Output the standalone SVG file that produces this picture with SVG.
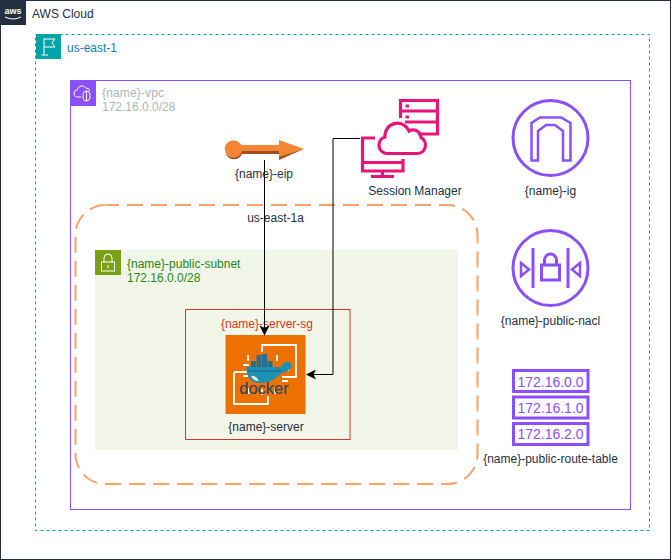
<svg xmlns="http://www.w3.org/2000/svg" width="671" height="560" viewBox="0 0 671 560">
<style>
text{font-family:"Liberation Sans",Arial,sans-serif;font-size:12px;fill:#232F3E}
.m{text-anchor:middle}
.pl{fill:none;stroke:#8C4FFF;stroke-width:3}
.ws{fill:none;stroke:#fff;stroke-width:1}
.pk{fill:none;stroke:#E7157B;stroke-width:3.2}
.conn{fill:none;stroke:#000;stroke-width:1}
.box{fill:#2A6F8E}
.rt{font-size:14px;fill:#8C4FFF}
</style>
<defs>
<marker id="ah" viewBox="0 0 10 10" refX="9" refY="5" markerWidth="10" markerHeight="10" orient="auto" markerUnits="userSpaceOnUse"><path d="M0 0L10 5L0 10L2.5 5Z" fill="#000"/></marker>
</defs>
<rect width="671" height="560" fill="#fff"/>
<g id="aws-cloud">
<rect x="0.5" y="0.5" width="670" height="559" fill="none" stroke="#232F3E"/>
<rect x="0" y="0" width="26" height="25" fill="#232F3E"/>
<text x="13" y="14" class="m" style="font-size:9px;font-weight:bold;fill:#fff">aws</text>
<path d="M5 17Q13 21 21 17" fill="none" stroke="#fff" stroke-width="1"/>
<text x="32" y="18">AWS Cloud</text>
</g>
<g id="region">
<rect x="35.5" y="34.5" width="614" height="496" fill="none" stroke="#00A4A6" stroke-dasharray="3 3"/>
<rect x="36" y="34" width="25" height="25" fill="#00A4A6"/>
<path d="M44 55V38.500M44 39H55L52 43L55 47H44M41.500 55H48" fill="none" stroke="#fff"/>
<text x="67" y="52" style="fill:#147EBA">us-east-1</text>
</g>
<g id="vpc">
<rect x="70.5" y="80.5" width="560" height="429" fill="none" stroke="#8C4FFF"/>
<rect x="71" y="81" width="25" height="25" fill="#8C4FFF"/>
<path d="M81 97H78a3.500 3.500 0 0 1-1-7a5 5 0 0 1 9-2a4 4 0 0 1 4 3" class="ws"/>
<rect x="83" y="91" width="7" height="10" rx="3.500" class="ws"/>
<path d="M86.500 91V101" class="ws"/>
<text x="102" y="97" style="fill:#AAB7B8" textLength="62">{name}-vpc</text>
<text x="102" y="111" style="fill:#AAB7B8">172.16.0.0/28</text>
</g>
<g id="az">
<rect x="75.5" y="205" width="402" height="279" rx="30" fill="none" stroke="#F8A36A" stroke-width="2" stroke-dasharray="16 8" stroke-dashoffset="2.500"/>
<text x="275.500" y="222" class="m">us-east-1a</text>
</g>
<g id="subnet">
<rect x="95" y="250" width="363" height="200" fill="#F2F6E8"/>
<rect x="95" y="250" width="26" height="25" fill="#7AA116"/>
<rect x="101.500" y="262" width="13" height="9" fill="none" stroke="#fff"/>
<path d="M104 262V258a4 4 0 0 1 8 0v4" fill="none" stroke="#fff"/>
<path d="M108 265v3" stroke="#fff"/>
<text x="127" y="268" style="fill:#248814">{name}-public-subnet</text>
<text x="127" y="282" style="fill:#248814">172.16.0.0/28</text>
</g>
<g id="server-sg">
<path d="M350 309.500H185.500V439.500H350" fill="none" stroke="#D2382A"/>
<path d="M350 309V440" fill="none" stroke="#DD3522"/>
<text x="267" y="328" class="m" style="fill:#DD3522">{name}-server-sg</text>
</g>
<g id="server">
<rect x="225.500" y="335" width="80" height="79" fill="#ED7100"/>
<path d="M262 352V345H296V377H282M234 372H247M234 372V404H268V396" fill="none" stroke="#fff" stroke-width="1.800"/>
<path d="M248 355v6M258 355v4M277 355v6M243 365h6M243 376h5M283 370h6M282 381h6M249 388v6M262 389v6M275 388v6" stroke="#fff" stroke-width="1.800" fill="none"/>
<path d="M246 367H281Q284 361 288 362Q291 363 292 366Q289 372 281 373Q274 383 258 383Q247 382 246 367Z" fill="#1D91B4"/>
<path d="M248 371H281" stroke="#17617F" stroke-width="1"/>
<path d="M251 376Q256 375 259 381Q253 381 251 376Z" fill="#E6F2F6"/>
<rect x="251" y="361" width="5" height="6" class="box"/><rect x="256.500" y="361" width="5" height="6" class="box"/><rect x="262" y="361" width="5" height="6" class="box"/><rect x="267.500" y="361" width="5" height="6" class="box"/>
<rect x="256.500" y="355" width="5" height="6" class="box"/><rect x="262" y="355" width="5" height="6" class="box"/><rect x="262" y="354" width="5" height="3" class="box"/>
<text x="264" y="394" class="m" style="font-size:16.500px;fill:#33475A;stroke:#33475A;stroke-width:.2">docker</text>
<text x="266" y="431" class="m">{name}-server</text>
</g>
<g id="connectors">
<path d="M264.500 160V334.500" class="conn" marker-end="url(#ah)"/>
<path d="M360 138.500H333V374.500H307" class="conn" marker-end="url(#ah)"/>
</g>
<g id="eip">
<path d="M226 154A8.700 8.700 0 0 0 242 154H279V160L304 149L279 156V151H241Z" fill="#9D5025"/>
<circle cx="233.500" cy="149" r="8.700" fill="#F58534"/>
<path d="M240 145H279V140L304 149L279 157V151H240Z" fill="#F58534"/>
<text x="264" y="178" class="m">{name}-eip</text>
</g>
<g id="session-manager">
<path d="M375 138H362.500V171H403V159M362.500 162.500H403M371 176.500H394M382.500 171V176" class="pk"/>
<path d="M400.500 118V100.500H437.500V134H418" class="pk"/>
<path d="M400.500 111H437.500M405 122H437.500" class="pk"/>
<path d="M405.500 106h3.500M405.500 117h3.500" class="pk"/>
<path d="M386 153.500H417A8.500 8.500 0 0 0 421 137.500A8 8 0 0 0 409 131A12.500 12.500 0 0 0 385 137A8.500 8.500 0 0 0 386 153.500Z" fill="none" stroke="#E7157B" stroke-width="3.200"/>
<text x="415" y="195" class="m">Session Manager</text>
</g>
<g id="ig">
<circle cx="550.500" cy="138" r="37.500" class="pl"/>
<path d="M531.500 160.500V123L540 117.500H561L570.500 123V160.500H563V131L555 125H546L538 131V160.500Z" fill="none" stroke="#8C4FFF" stroke-width="2.500"/>
<text x="550.500" y="195" class="m">{name}-ig</text>
</g>
<g id="nacl">
<circle cx="550.500" cy="268" r="37.500" class="pl"/>
<path d="M533 248V288M568 248V288" class="pl"/>
<rect x="541.500" y="265" width="18" height="15" class="pl"/>
<path d="M544.500 265V260a6 6 0 0 1 12 0v5" class="pl"/>
<path d="M521 263V276L529 269.500ZM580 263V276L572 269.500Z" fill="none" stroke="#8C4FFF" stroke-width="2.500"/>
<text x="550.500" y="325" class="m">{name}-public-nacl</text>
</g>
<g id="route-table">
<rect x="513.500" y="370.500" width="74.500" height="21" class="pl"/>
<rect x="513.500" y="397" width="74.500" height="21" class="pl"/>
<rect x="513.500" y="423.500" width="74.500" height="21" class="pl"/>
<text x="550.500" y="387" class="m rt">172.16.0.0</text>
<text x="550.500" y="413" class="m rt">172.16.1.0</text>
<text x="550.500" y="439" class="m rt">172.16.2.0</text>
<text x="550.500" y="463" class="m">{name}-public-route-table</text>
</g>
</svg>
